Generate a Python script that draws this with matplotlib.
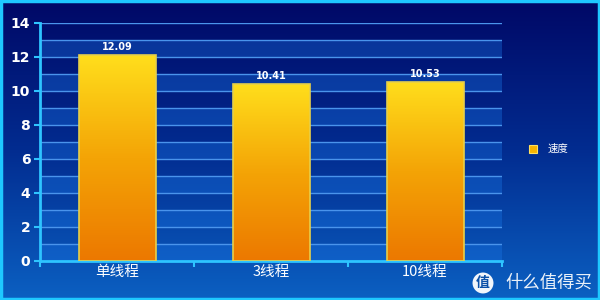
import matplotlib.pyplot as plt
import numpy as np
from matplotlib.colors import LinearSegmentedColormap
from matplotlib.patches import Rectangle

plt.rcParams['font.family'] = ['Noto Sans CJK SC', 'DejaVu Sans']

categories = ['单线程', '3线程', '10线程']
speed = [12.09, 10.41, 10.53]
series_name = '速度'
y_ticks = [0, 2, 4, 6, 8, 10, 12, 14]

fig = plt.figure(figsize=(6, 3), dpi=100)

# background gradient for whole figure
bg = fig.add_axes([0, 0, 1, 1])
bg_cmap = LinearSegmentedColormap.from_list('bg', ['#000866', '#022c90', '#0b60c2'])
bg.imshow(np.linspace(0, 1, 256).reshape(-1, 1), aspect='auto', cmap=bg_cmap,
          extent=[0, 1, 0, 1], origin='upper')
bg.add_patch(Rectangle((0.002, 0.004), 0.996, 0.992, fill=False,
                       edgecolor='#1ec8ff', linewidth=2.5, transform=bg.transAxes))
bg.set_xlim(0, 1)
bg.set_ylim(0, 1)
bg.axis('off')

ax = fig.add_axes([40 / 600, 1 - 261 / 300, 462 / 600, 238 / 300])
ax.set_facecolor('none')

# alternating bands and grid lines
for k in range(14):
    if k % 2 == 0:
        ax.axhspan(k, k + 1, color='#1a78e8', alpha=0.35, lw=0, zorder=0)
for k in range(1, 15):
    ax.axhline(k, color='#4a94ec', lw=1.0, zorder=1)

# bars with vertical gradient
bar_cmap = LinearSegmentedColormap.from_list('bar', ['#ec7800', '#f4a406', '#ffde1c'])
grad = np.linspace(0, 1, 256).reshape(-1, 1)
x = np.arange(len(categories))
bars = ax.bar(x, speed, width=0.5, color='none', edgecolor='#e6cf4a', lw=1.2, zorder=3)
for b in bars:
    bx, by = b.get_x(), b.get_y()
    w, h = b.get_width(), b.get_height()
    im = ax.imshow(grad, aspect='auto', cmap=bar_cmap, origin='lower',
                   extent=[bx, bx + w, by, by + h], zorder=2)
    im.set_clip_path(b)
for xi, v in zip(x, speed):
    ax.text(xi, v + 0.2, f'{v:.2f}', ha='center', va='bottom', color='white',
            fontsize=7, fontweight='bold', family='DejaVu Sans')
ax.set_xlim(-0.5, len(categories) - 0.5)
ax.set_ylim(0, 14)

# axes styling
for side in ['top', 'right']:
    ax.spines[side].set_visible(False)
for side in ['left', 'bottom']:
    ax.spines[side].set_color('#2ec4ff')
    ax.spines[side].set_linewidth(2)
ax.set_yticks(y_ticks)
ax.set_yticklabels([str(t) for t in y_ticks], color='white', fontsize=10,
                   fontweight='bold', family='DejaVu Sans')
ax.tick_params(axis='y', colors='#2ec4ff', length=4, width=1.5, pad=3, labelcolor='white')
ax.set_xticks([-0.5, 0.5, 1.5, 2.5])
ax.set_xticklabels([])
ax.set_xticks(x, minor=True)
ax.set_xticklabels(categories, minor=True, color='white', fontsize=10.5)
ax.tick_params(axis='x', which='major', colors='#2ec4ff', length=4, width=1.5)
ax.tick_params(axis='x', which='minor', length=0, pad=3, labelcolor='white')
ax.set_xlim(-0.5, len(categories) - 0.5)

# legend
fig.patches.append(Rectangle((529 / 600, 1 - 153 / 300), 8 / 600, 8 / 300,
                             transform=fig.transFigure, facecolor='#f7b400',
                             edgecolor='#ffe060', lw=0.8))
fig.text(548 / 600, 1 - 149 / 300, series_name, color='white', fontsize=7.5,
         va='center', ha='left')

# watermark
fig.text(483 / 600, 1 - 283 / 300, '值', color='#0a50a8', fontsize=10, fontweight='bold',
         ha='center', va='center',
         bbox=dict(boxstyle='circle,pad=0.25', facecolor='white', edgecolor='none', alpha=0.95))
fig.text(505 / 600, 1 - 283 / 300, '什么值得买', color='white', fontsize=12.5,
         ha='left', va='center', alpha=0.92)

fig.savefig('out.png', dpi=100)
